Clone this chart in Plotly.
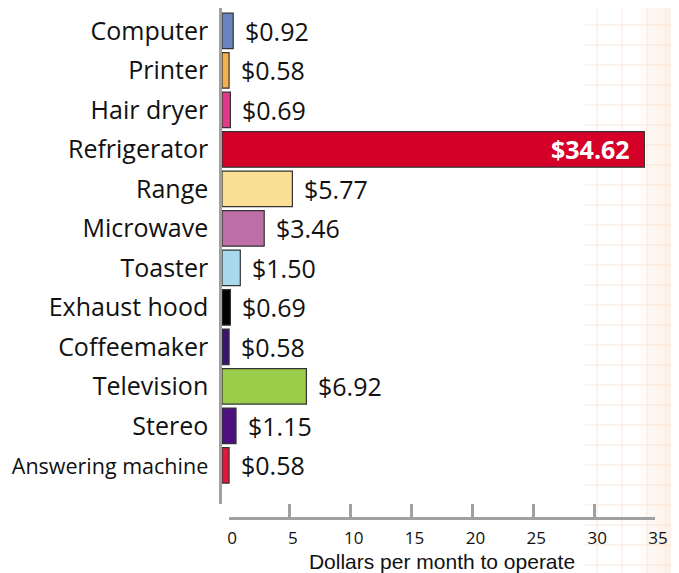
import plotly.graph_objects as go

# page offset: the browser's default body margin places the figure at (8, 8)
OFF = 8
W, H = 679 - OFF, 573 - OFF

categories = ["Computer", "Printer", "Hair dryer", "Refrigerator", "Range", "Microwave",
              "Toaster", "Exhaust hood", "Coffeemaker", "Television", "Stereo",
              "Answering machine"]
values = [0.92, 0.58, 0.69, 34.62, 5.77, 3.46, 1.50, 0.69, 0.58, 6.92, 1.15, 0.58]
colors = ["#6A84C0", "#F2B04E", "#E23A8A", "#D40027", "#FADF95", "#BF6FA7",
          "#A9D9EC", "#000000", "#3B146F", "#9BCD4B", "#4D107F", "#E0183D"]
tick_vals = [0, 5, 10, 15, 20, 25, 30, 35]

LABEL_FONT = "Open Sans"

def px_x(p):
    return (p - OFF) / W

def px_y(p):
    return 1 - (p - OFF) / H

ticktext = [c if c != "Answering machine" else
            '<span style="font-size:21.5px">Answering machine</span>' for c in categories]

fig = go.Figure()
fig.add_trace(go.Bar(
    x=values, y=categories, orientation="h",
    marker=dict(color=colors, line=dict(color="#333333", width=1.2)),
    width=0.9, hoverinfo="skip", showlegend=False,
))
# empty traces to create the free-positioned bottom axes
fig.add_trace(go.Scatter(x=[], y=[], xaxis="x2", yaxis="y", showlegend=False, hoverinfo="skip"))
fig.add_trace(go.Scatter(x=[], y=[], xaxis="x3", yaxis="y", showlegend=False, hoverinfo="skip"))

annotations = []
for c, v in zip(categories, values):
    if v > 20:
        annotations.append(dict(x=v, y=c, xref="x", yref="y", text=f"<b>${v:.2f}</b>",
                                showarrow=False, xanchor="right", xshift=-12,
                                font=dict(family=LABEL_FONT, size=25, color="white")))
    else:
        annotations.append(dict(x=v, y=c, xref="x", yref="y", text=f"${v:.2f}",
                                showarrow=False, xanchor="left", xshift=10,
                                font=dict(family=LABEL_FONT, size=25, color="#111111")))

# decorative background grid on the right edge
shapes = []
for i in range(5):
    shapes.append(dict(type="rect", xref="paper", yref="paper", layer="below",
                       x0=px_x(640 + i * 8), x1=1 if i == 4 else px_x(648 + i * 8),
                       y0=0, y1=1, line=dict(width=0),
                       fillcolor=f"rgba(250,218,196,{0.10 + i * 0.09:.2f})"))
for k in range(29):
    yy = 25 + 20 * k
    if yy > 573:
        break
    shapes.append(dict(type="line", xref="paper", yref="paper", layer="below",
                       x0=px_x(585), x1=1, y0=px_y(yy), y1=px_y(yy),
                       line=dict(color="rgba(251,224,210,0.5)", width=1.5)))
for xx in [597, 622, 647, 672]:
    shapes.append(dict(type="line", xref="paper", yref="paper", layer="below",
                       x0=px_x(xx), x1=px_x(xx), y0=0, y1=1,
                       line=dict(color="rgba(251,224,210,0.55)", width=1.5)))

px_per_unit = 12.2
fig.update_layout(
    width=W, height=H,
    margin=dict(l=0, r=0, t=0, b=0, autoexpand=False),
    paper_bgcolor="white", plot_bgcolor="rgba(0,0,0,0)",
    bargap=0.1,
    xaxis=dict(domain=[px_x(222), 1], range=[0, (679 - 222) / px_per_unit],
               visible=False, fixedrange=True, automargin=False),
    yaxis=dict(domain=[px_y(504), px_y(8)], type="category", automargin=False,
               categoryorder="array", categoryarray=categories,
               range=[11.98, -0.58], showline=True, linecolor="#A0A0A0", linewidth=2.5,
               ticks="", tickmode="array", tickvals=categories, ticktext=ticktext,
               ticklabelstandoff=6, showgrid=False, zeroline=False,
               tickfont=dict(family=LABEL_FONT, size=25, color="#111111")),
    xaxis2=dict(domain=[px_x(229), px_x(655)], range=[0, 35], anchor="free",
                position=px_y(518), showline=True, linecolor="#A0A0A0", linewidth=2.5,
                ticks="", tickvals=tick_vals, showgrid=False, zeroline=False,
                ticklabelstandoff=4, ticklabelshift=3, automargin=False,
                tickfont=dict(family=LABEL_FONT, size=17, color="#111111"),
                title=dict(text="Dollars per month to operate", standoff=8,
                           font=dict(family="Liberation Sans", size=21, color="#111111"))),
    xaxis3=dict(overlaying="x2", range=[0, 35], anchor="free", position=px_y(518),
                ticks="inside", ticklen=14, tickwidth=2.5, tickcolor="#A0A0A0",
                tickvals=tick_vals[1:], showticklabels=False, showgrid=False,
                zeroline=False, showline=False, automargin=False),
    annotations=annotations,
    shapes=shapes,
)

fig.write_html("out.html")
